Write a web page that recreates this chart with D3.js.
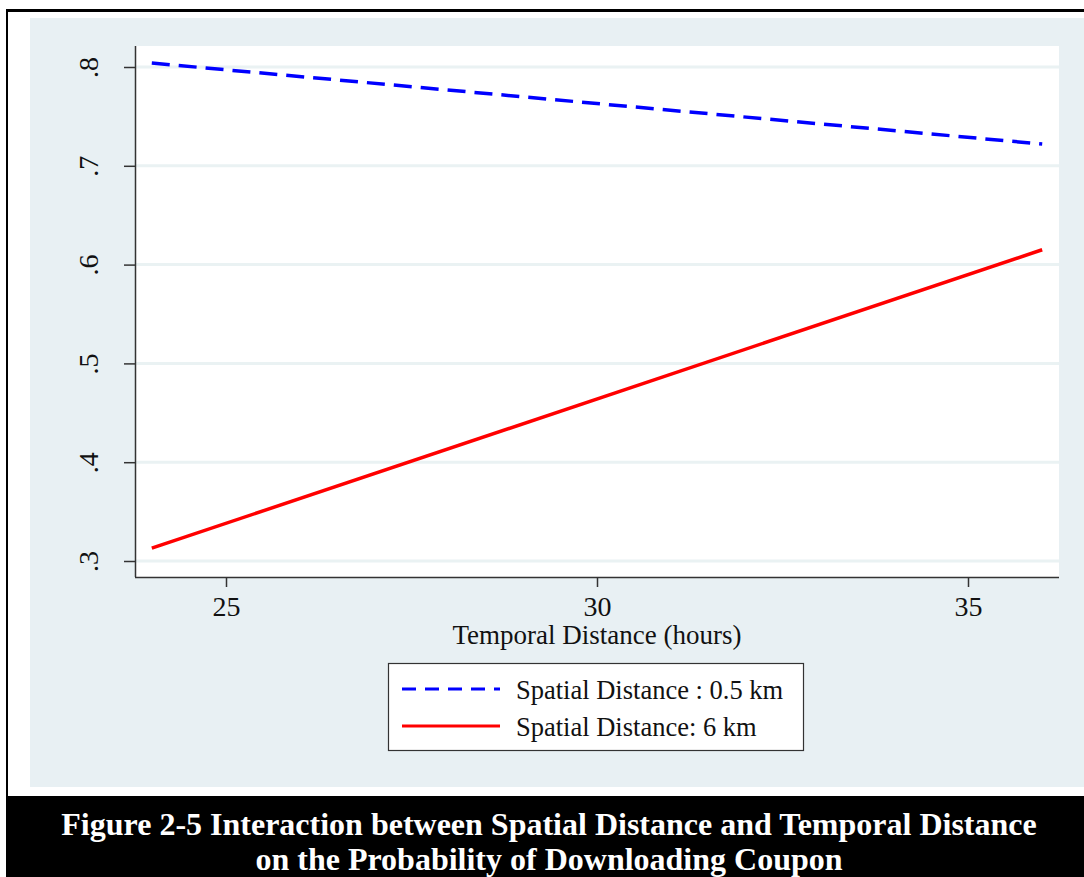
<!doctype html>
<html>
<head>
<meta charset="utf-8"/>
<script src="https://d3js.org/d3.v7.min.js"></script>
<style>
  body { margin: 0; background: #fff; }
  text { font-family: "Liberation Serif", "Times New Roman", serif; }
</style>
</head>
<body>
<svg id="chart"></svg>
<script>
// data
var hours = [24, 36];
var nearValues = [0.804, 0.722];   // Spatial Distance : 0.5 km
var farValues = [0.313, 0.615];    // Spatial Distance: 6 km
var xTicks = [25, 30, 35];
var yTicks = [0.3, 0.4, 0.5, 0.6, 0.7, 0.8];
var yTickLabels = [".3", ".4", ".5", ".6", ".7", ".8"];
var seriesNames = ["Spatial Distance : 0.5 km", "Spatial Distance: 6 km"];
var captionLines = ["Figure 2-5 Interaction between Spatial Distance and Temporal Distance",
                    "on the Probability of Downloading Coupon"];

var W = 1084, H = 877;
var svg = d3.select("#chart").attr("width", W).attr("height", H);

// page frame
svg.append("rect").attr("x", 0).attr("y", 0).attr("width", W).attr("height", H).attr("fill", "#fff");
svg.append("rect").attr("x", 30).attr("y", 18).attr("width", W - 30).attr("height", 769).attr("fill", "#e8f0f3");
svg.append("line").attr("x1", 6).attr("x2", W).attr("y1", 10.5).attr("y2", 10.5)
  .attr("stroke", "#000").attr("stroke-width", 3);
svg.append("line").attr("x1", 7).attr("x2", 7).attr("y1", 9).attr("y2", H)
  .attr("stroke", "#000").attr("stroke-width", 2);

// plot region
var plot = { left: 135, right: 1059, top: 46, bottom: 577 };
svg.append("rect").attr("x", plot.left).attr("y", plot.top)
  .attr("width", plot.right - plot.left).attr("height", plot.bottom - plot.top).attr("fill", "#fff");

var x = d3.scaleLinear().domain([25, 35]).range([226, 968]);
var y = d3.scaleLinear().domain([0.3, 0.8]).range([561, 67]);

// grid
svg.append("g").selectAll("line").data(yTicks).enter().append("line")
  .attr("x1", plot.left).attr("x2", plot.right)
  .attr("y1", d => y(d)).attr("y2", d => y(d))
  .attr("stroke", "#eaf2f3").attr("stroke-width", 3);

// y axis
var yAxis = d3.axisLeft(y).tickValues(yTicks).tickSize(11).tickFormat((d, i) => yTickLabels[i]);
var gy = svg.append("g").attr("transform", "translate(" + plot.left + ",0)").call(yAxis);
gy.select(".domain").attr("d", "M0.5," + plot.top + "V" + plot.bottom).attr("stroke", "#333").attr("stroke-width", 1.5);
gy.selectAll(".tick line").attr("stroke", "#333").attr("stroke-width", 1.5);
gy.selectAll(".tick text")
  .attr("x", null).attr("dy", null)
  .attr("transform", "translate(-47,0) rotate(-90)")
  .attr("text-anchor", "middle").attr("dominant-baseline", "central")
  .style("font-family", "'Liberation Serif', serif").style("font-size", "28px").attr("fill", "#111");

// x axis
var xAxis = d3.axisBottom(x).tickValues(xTicks).tickSize(10).tickFormat(d3.format("d"));
var gx = svg.append("g").attr("transform", "translate(0," + plot.bottom + ")").call(xAxis);
gx.select(".domain").attr("d", "M" + plot.left + ",0.5H" + plot.right).attr("stroke", "#333").attr("stroke-width", 1.5);
gx.selectAll(".tick line").attr("stroke", "#333").attr("stroke-width", 1.5);
gx.selectAll(".tick text").attr("y", 19).attr("dy", "0.71em")
  .style("font-family", "'Liberation Serif', serif").style("font-size", "28px").attr("fill", "#111");

svg.append("text").attr("x", 597).attr("y", 644).attr("text-anchor", "middle")
  .style("font-size", "27px").attr("fill", "#111").text("Temporal Distance (hours)");

// lines
var line = d3.line().x(d => x(d[0])).y(d => y(d[1]));
var styles = [
  { color: "#0000ff", dash: "18,9" },
  { color: "#ff0000", dash: null }
];
[nearValues, farValues].forEach(function (vals, i) {
  svg.append("path").datum(hours.map((h, j) => [h, vals[j]]))
    .attr("d", line).attr("fill", "none")
    .attr("stroke", styles[i].color).attr("stroke-width", 3.5)
    .attr("stroke-dasharray", styles[i].dash);
});

// legend
var lg = svg.append("g").attr("transform", "translate(388,663)");
lg.append("rect").attr("x", 0.5).attr("y", 0.5).attr("width", 415).attr("height", 87)
  .attr("fill", "#fff").attr("stroke", "#333").attr("stroke-width", 1.2);
seriesNames.forEach(function (name, i) {
  var yy = 26 + i * 37;
  lg.append("line").attr("x1", 14).attr("x2", 112).attr("y1", yy).attr("y2", yy)
    .attr("stroke", styles[i].color).attr("stroke-width", 3)
    .attr("stroke-dasharray", styles[i].dash ? "14,9" : null);
  lg.append("text").attr("x", 128).attr("y", yy + 1).attr("dominant-baseline", "central")
    .style("font-size", "26.5px").attr("fill", "#111").text(name);
});

// caption band
svg.append("rect").attr("x", 6).attr("y", 796).attr("width", W - 6).attr("height", H - 796).attr("fill", "#000");
captionLines.forEach(function (t, i) {
  svg.append("text").attr("x", 549).attr("y", 835 + i * 35).attr("text-anchor", "middle")
    .style("font-size", "32px").style("font-weight", "bold").attr("fill", "#fff").text(t);
});
</script>
</body>
</html>
